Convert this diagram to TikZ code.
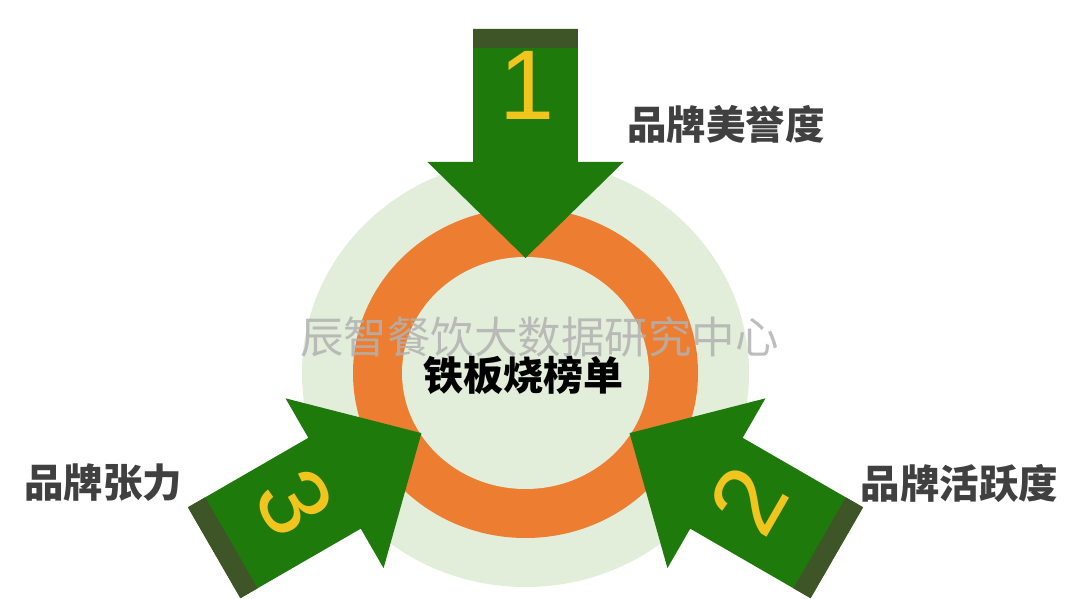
\documentclass[tikz,border=0pt]{standalone}
\usepackage{fontspec}
\usetikzlibrary{calc,positioning}
\newfontfamily\cjk{Noto Sans CJK SC}
\newfontfamily\digits{Liberation Sans}
\definecolor{arrowgreen}{RGB}{31,122,12}
\definecolor{bandolive}{RGB}{62,85,40}
\definecolor{numyellow}{RGB}{242,197,30}
\definecolor{ringorange}{RGB}{237,125,49}
\definecolor{palegreen}{RGB}{226,238,218}
\definecolor{labelgray}{RGB}{64,64,64}
\definecolor{markgray}{RGB}{178,178,178}
\tikzset{
    every node/.append style={inner sep=0pt},
    brandlabel/.style={font=\cjk\bfseries\fontsize{39.5}{40}\selectfont, text=labelgray},
    rank/.style={font=\digits\fontsize{99}{99}\selectfont, text=numyellow}}
\newcommand{\blockarrow}[2]{%
    \begin{scope}[shift={(ctr)}, xscale=1.045, yscale=#2, rotate=#1]
        \fill[arrowgreen] (-50.2,-344) -- (50.2,-344) -- (50.2,-211) -- (93.8,-211)
            -- (0,-115) -- (-93.8,-211) -- (-50.2,-211) -- cycle;
        \fill[bandolive] (-50.2,-344) rectangle (50.2,-325);
    \end{scope}}

\begin{document}
\begin{tikzpicture}[x=1pt,y=-1pt]
    \useasboundingbox[fill=white] (0,0) rectangle (1080,599);
    \coordinate (ctr) at (525.5,373);

    \fill[palegreen] (ctr) ellipse [x radius=223.5pt, y radius=214pt];
    \fill[ringorange] (ctr) ellipse [x radius=172.5pt, y radius=165pt];
    \fill[palegreen] (ctr) ellipse [x radius=123.5pt, y radius=116pt];

    \blockarrow{0}{1}
    \blockarrow{-120}{1.045}
    \blockarrow{120}{1.045}

    \node[rank] (n1) at (527,85) {1};
    \node[rank, rotate=60] (n2) at (748,500) {2};
    \node[rank, rotate=-60] (n3) at (295,502) {3};

    \node[font=\cjk\fontsize{43.5}{44}\selectfont, text=markgray, text opacity=.85] (mark) at (539.5,337) {辰智餐饮大数据研究中心};
    \node[font=\cjk\bfseries\fontsize{40}{40}\selectfont, text=black] (title) at (523.5,375) {铁板烧榜单};

    \node[brandlabel] (brand1) at (726,124) {品牌美誉度};
    \node[brandlabel] (brand2) at (959.5,484) {品牌活跃度};
    \node[brandlabel] (brand3) at (103,483) {品牌张力};
\end{tikzpicture}
\end{document}
